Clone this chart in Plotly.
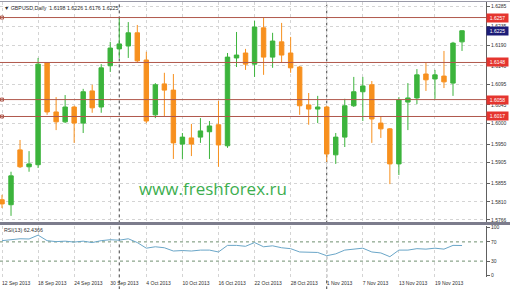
import plotly.graph_objects as go

# ---------------- data ----------------
dates = ["12 Sep", "13 Sep", "16 Sep", "17 Sep", "18 Sep", "19 Sep", "20 Sep", "23 Sep", "24 Sep", "25 Sep",
         "26 Sep", "27 Sep", "30 Sep", "1 Oct", "2 Oct", "3 Oct", "4 Oct", "7 Oct", "8 Oct", "9 Oct",
         "10 Oct", "11 Oct", "14 Oct", "15 Oct", "16 Oct", "17 Oct", "18 Oct", "21 Oct", "22 Oct", "23 Oct",
         "24 Oct", "25 Oct", "28 Oct", "29 Oct", "30 Oct", "31 Oct", "1 Nov", "4 Nov", "5 Nov", "6 Nov",
         "7 Nov", "8 Nov", "11 Nov", "12 Nov", "13 Nov", "14 Nov", "15 Nov", "18 Nov", "19 Nov", "20 Nov",
         "21 Nov", "22 Nov"]

opens = [1.5815, 1.5803, 1.5936, 1.5895, 1.5900, 1.6147, 1.6028, 1.6004, 1.6040, 1.6001,
         1.6079, 1.6040, 1.6140, 1.6181, 1.6188, 1.6220, 1.6154, 1.6021, 1.6096, 1.6081,
         1.5950, 1.5965, 1.5967, 1.5980, 1.5997, 1.5946, 1.6159, 1.6171, 1.6144, 1.6232,
         1.6161, 1.6198, 1.6171, 1.6137, 1.6045, 1.6035, 1.6040, 1.5924, 1.5967, 1.6043,
         1.6077, 1.6094, 1.6001, 1.5987, 1.5902, 1.6052, 1.6062, 1.6120, 1.6108, 1.6115,
         1.6098, 1.6198]
highs = [1.5827, 1.5883, 1.5960, 1.5933, 1.6159, 1.6149, 1.6064, 1.6069, 1.6043, 1.6084,
         1.6094, 1.6144, 1.6198, 1.6254, 1.6246, 1.6239, 1.6174, 1.6098, 1.6123, 1.6120,
         1.5977, 1.5999, 1.6013, 1.6006, 1.6055, 1.6171, 1.6222, 1.6181, 1.6249, 1.6256,
         1.6220, 1.6244, 1.6210, 1.6140, 1.6074, 1.6067, 1.6043, 1.5977, 1.6060, 1.6113,
         1.6113, 1.6103, 1.6018, 1.5989, 1.6064, 1.6098, 1.6132, 1.6147, 1.6130, 1.6176,
         1.6198, 1.6226]
lows = [1.5795, 1.5776, 1.5892, 1.5883, 1.5892, 1.6021, 1.5984, 1.6001, 1.5953, 1.5977,
        1.6026, 1.6026, 1.6125, 1.6159, 1.6159, 1.6149, 1.6001, 1.6013, 1.6016, 1.5914,
        1.5914, 1.5921, 1.5953, 1.5914, 1.5895, 1.5941, 1.6137, 1.6130, 1.6113, 1.6118,
        1.6135, 1.6147, 1.6123, 1.6021, 1.5997, 1.6001, 1.5907, 1.5902, 1.5943, 1.6040,
        1.6006, 1.5953, 1.5965, 1.5853, 1.5875, 1.5984, 1.6047, 1.6079, 1.6060, 1.6086,
        1.6067, 1.6176]
closes = [1.5805, 1.5873, 1.5895, 1.5902, 1.6144, 1.6028, 1.6004, 1.6040, 1.6001, 1.6077,
          1.6038, 1.6135, 1.6183, 1.6193, 1.6220, 1.6152, 1.6006, 1.6094, 1.6081, 1.5953,
          1.5967, 1.5950, 1.5982, 1.5994, 1.5948, 1.6161, 1.6166, 1.6144, 1.6234, 1.6161,
          1.6200, 1.6166, 1.6135, 1.6043, 1.6035, 1.6040, 1.5926, 1.5967, 1.6043, 1.6077,
          1.6091, 1.6011, 1.5987, 1.5902, 1.6057, 1.6062, 1.6118, 1.6106, 1.6118, 1.6101,
          1.6195, 1.6225]

rsi = [72.5, 74.5, 76.5, 76.0, 84.0, 72.5, 70.5, 71.5, 69.6, 71.5,
       68.6, 72.5, 74.5, 73.5, 76.5, 68.6, 56.9, 59.8, 57.8, 51.0,
       52.0, 51.0, 52.9, 52.9, 49.0, 62.7, 62.7, 60.8, 68.6, 59.8,
       61.8, 57.8, 55.9, 49.0, 49.0, 48.0, 41.2, 45.1, 52.9, 54.9,
       56.9, 49.0, 47.0, 39.2, 52.9, 52.9, 55.9, 54.9, 56.9, 54.9,
       62.7, 62.4]

date_tick_idx = [0, 4, 8, 12, 16, 20, 24, 28, 32, 36, 40, 44, 48]
date_tick_text = ["12 Sep 2013", "18 Sep 2013", "24 Sep 2013", "30 Sep 2013", "4 Oct 2013",
                  "10 Oct 2013", "16 Oct 2013", "22 Oct 2013", "28 Oct 2013", "1 Nov 2013",
                  "7 Nov 2013", "13 Nov 2013", "19 Nov 2013"]

price_ticks = [1.6285, 1.6235, 1.6190, 1.6140, 1.6095, 1.6045, 1.6000, 1.5950, 1.5905, 1.5855, 1.5810, 1.5766]
rsi_ticks = [100, 70, 30, 0]
rsi_levels = [70, 30]

hlines = [1.6257, 1.6148, 1.6058, 1.6017]
hline_markers = [1.6257, 1.6058, 1.6017]
current_price = 1.6225
separators = [13, 36]   # 1 Oct, 1 Nov

x = list(range(len(dates)))

# ---------------- geometry ----------------
W, H = 510, 289
ML, MR, MT, MB = 0, 24, 2, 12
PH = H - MT - MB  # 275


def py(pix):  # pixel row -> paper y
    return (H - MB - pix) / PH


PW = W - ML - MR
FONT = "Liberation Sans, Arial, sans-serif"
GREEN = "#3cb43c"
ORANGE = "#f7901e"
LINE_RED = "#b0584c"

fig = go.Figure()

fig.add_trace(go.Candlestick(
    x=x, open=opens, high=highs, low=lows, close=closes,
    increasing=dict(line=dict(color=GREEN, width=1), fillcolor=GREEN),
    decreasing=dict(line=dict(color=ORANGE, width=1), fillcolor=ORANGE),
    whiskerwidth=0, xaxis="x", yaxis="y", showlegend=False, hoverinfo="skip",
))

for v in hlines:
    fig.add_trace(go.Scatter(x=[-1, 60], y=[v, v], mode="lines",
                             line=dict(color=LINE_RED, width=1), xaxis="x", yaxis="y",
                             showlegend=False, hoverinfo="skip"))
fig.add_trace(go.Scatter(x=[0] * len(hline_markers), y=hline_markers, mode="markers",
                         marker=dict(symbol="square-open", size=3, color=LINE_RED, line=dict(width=1)),
                         xaxis="x", yaxis="y", showlegend=False, hoverinfo="skip", cliponaxis=False))

fig.add_trace(go.Scatter(x=x, y=rsi, mode="lines", line=dict(color="#6aa6c8", width=1),
                         xaxis="x", yaxis="y2", showlegend=False, hoverinfo="skip"))

shapes = []
for lv in rsi_levels:
    shapes.append(dict(type="line", xref="paper", x0=0, x1=1, yref="y2", y0=lv, y1=lv,
                       line=dict(color="#6f8f6f", width=1, dash="dot"), layer="below"))
for s in separators:
    shapes.append(dict(type="line", xref="x", x0=s, x1=s, yref="paper", y0=-0.045, y1=1,
                       line=dict(color="#404040", width=1, dash="dot"), layer="below"))
# panel separator band
shapes.append(dict(type="rect", xref="paper", x0=0, x1=W / PW, yref="paper", y0=py(225), y1=py(222),
                   fillcolor="#7c7c8c", line=dict(width=0)))
# top border
shapes.append(dict(type="line", xref="paper", x0=0, x1=W / PW, yref="paper", y0=py(1.5), y1=py(1.5),
                   line=dict(color="#9a9aa8", width=1)))

annotations = [
    dict(xref="paper", yref="paper", x=0, y=py(7.5), xanchor="left", yanchor="middle", xshift=2,
         text="▼ GBPUSD,Daily  1.6198 1.6226 1.6176 1.6225", showarrow=False,
         font=dict(family=FONT, size=5.3, color="#303030")),
    dict(xref="paper", yref="paper", x=0, y=py(230), xanchor="left", yanchor="middle", xshift=2,
         text="RSI(13) 62.4366", showarrow=False, font=dict(family=FONT, size=5.3, color="#303030")),
    dict(xref="paper", yref="paper", x=213 / PW, y=py(188), xanchor="center", yanchor="middle",
         text="www.freshforex.ru", showarrow=False,
         font=dict(family="Open Sans, DejaVu Sans, sans-serif", size=17, color="#3dae4f")),
]
for v in hlines:
    annotations.append(dict(xref="paper", yref="y", x=1, y=v, xanchor="left", yanchor="middle",
                            text=f"{v:.4f}", showarrow=False, bgcolor="#e5352f", borderpad=1,
                            width=19, align="center", font=dict(family=FONT, size=5, color="white")))
annotations.append(dict(xref="paper", yref="y", x=1, y=current_price, xanchor="left", yanchor="middle",
                        text=f"{current_price:.4f}", showarrow=False, bgcolor="#1c1c78", borderpad=1,
                        width=19, align="center", font=dict(family=FONT, size=5, color="white")))

fig.update_layout(
    width=W, height=H, margin=dict(l=ML, r=MR, t=MT, b=MB),
    paper_bgcolor="white", plot_bgcolor="white",
    showlegend=False, shapes=shapes, annotations=annotations,
    xaxis=dict(domain=[0, 1], range=[-2 / 9.02, (PW - 2) / 9.02], anchor="y2",
               tickvals=date_tick_idx, ticktext=date_tick_text, ticklabelposition="outside right",
               tickangle=0, ticklabelstandoff=2,
               ticks="", showgrid=True, gridcolor="#d4d4d4", griddash="dot", gridwidth=1,
               zeroline=False, showline=False, rangeslider=dict(visible=False),
               tickfont=dict(family=FONT, size=5, color="#303030")),
    yaxis=dict(domain=[py(222), 1], range=[1.57611, 1.62947], anchor="x", side="right",
               tickvals=price_ticks, ticktext=[f"{t:.4f}" for t in price_ticks],
               showgrid=True, gridcolor="#d4d4d4", griddash="dot", gridwidth=1,
               ticks="outside", ticklen=3, tickcolor="#606060", showline=True, linecolor="#606060",
               zeroline=False, tickfont=dict(family=FONT, size=5, color="#303030")),
    yaxis2=dict(domain=[0, py(226)], range=[-3, 103], anchor="x", side="right",
                tickvals=rsi_ticks, ticktext=[str(t) for t in rsi_ticks], showgrid=False,
                ticks="outside", ticklen=3, tickcolor="#606060", showline=True, linecolor="#606060",
                zeroline=False, tickfont=dict(family=FONT, size=5, color="#303030")),
)

fig.write_html("out.html")
